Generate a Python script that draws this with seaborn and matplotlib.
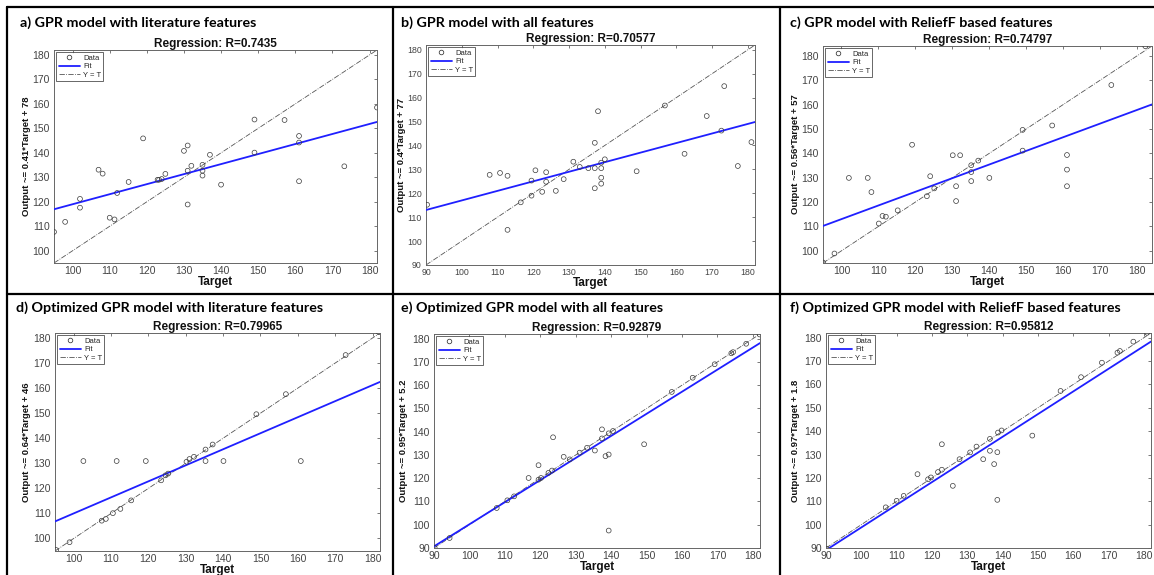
import numpy as np
import pandas as pd
import matplotlib
matplotlib.use("Agg")
import matplotlib.pyplot as plt
from matplotlib.lines import Line2D
import seaborn as sns

# ---------------- data ----------------
a_target = [95, 98, 102, 102, 107, 108.1, 110, 111.3, 112, 115.1, 119, 122.9, 123.3, 124, 125,
            130, 131, 131, 131, 132, 135, 135, 135, 137, 140, 149, 149, 157.1, 161, 161, 161, 173.2, 182]
a_output = [107.7, 111.8, 121.2, 117.6, 133.1, 131.5, 113.5, 112.8, 123.6, 128.1, 145.9, 129, 129, 129.3, 131.4,
            140.8, 143, 118.9, 132.7, 134.7, 135.1, 132.7, 130.7, 139.2, 127, 153.6, 140.1, 153.4, 146.9, 144.2, 128.4, 134.5, 158.5]

b_target = [90.3, 107.8, 110.7, 112.8, 112.8, 116.5, 119.5, 119.5, 120.6, 122.5, 123.6, 123.6, 126.3, 128.5,
            131.2, 133, 135.4, 137.2, 137.2, 137.2, 138.1, 139, 139, 139, 139, 140, 148.9, 156.8, 162.3,
            168.5, 172.6, 173.4, 177.2, 181]
b_output = [115.2, 127.7, 128.5, 127.3, 104.7, 116.2, 119, 125.3, 129.6, 120.6, 128.8, 124.8, 121, 125.9,
            133.2, 131, 130.5, 141.1, 130.5, 122.1, 154.3, 132.8, 130.5, 126.5, 124, 134.2, 129.2, 156.7, 136.5,
            152.3, 146.2, 164.8, 131.4, 141.4]

c_target = [95, 98.1, 102, 107.1, 108.1, 110.1, 111.1, 112, 115.2, 119.1, 123.1, 124, 125.1, 130.1, 132.1,
            131, 131, 135.1, 135.1, 135.1, 137, 140, 149, 149, 157, 161, 161, 161, 173, 182.2]
c_output = [95.2, 98.9, 129.9, 129.9, 124.1, 111.2, 114.3, 114, 116.6, 143.5, 122.4, 130.6, 125.6, 139.2, 139.2,
            126.5, 120.4, 135.1, 132.3, 128.6, 137, 129.9, 149.6, 141.1, 151.4, 139.3, 133.3, 126.5, 168, 183.9]

d_target = [95.3, 98.9, 102.6, 107.5, 108.6, 110.5, 111.5, 112.5, 115.4, 119.3, 123.4, 124.6, 125.3, 130.2,
            131, 132.2, 135.3, 135.3, 137.2, 140.1, 148.9, 156.8, 160.8, 172.8, 181.7]
d_output = [95.4, 98.5, 130.9, 107.1, 107.8, 110.1, 130.9, 111.8, 115.2, 130.9, 123.2, 125.2, 125.9, 130.6,
            131.7, 132.6, 135.5, 130.9, 137.5, 130.9, 149.6, 157.6, 130.9, 173.2, 182.3]

e_target = [90.2, 94.4, 107.7, 110.7, 112.6, 116.7, 119.5, 119.5, 120.2, 122.3, 123.3, 123.6, 126.6, 128.3,
            131.1, 133.2, 135.4, 137.4, 137.4, 138.4, 139.3, 139.3, 140.5, 139.3, 149.3, 157.1, 163, 169.2,
            173.9, 174.4, 178.1, 181.9]
e_output = [90, 94.3, 107.2, 110.5, 112.2, 120.1, 125.6, 119.4, 120.1, 122.3, 123.3, 137.6, 129.2, 128.1,
            131, 133.1, 131.9, 141, 137.1, 129.5, 130.2, 139.3, 140.3, 97.5, 134.6, 157.1, 163.2, 169,
            173.7, 174.2, 177.8, 181.8]

f_target = [90.2, 106.9, 110, 112, 115.9, 118.9, 119.7, 121.7, 122.8, 122.8, 125.9, 127.8, 130.8, 132.6,
            134.5, 136.4, 136.4, 137.6, 138.5, 138.5, 138.7, 139.7, 148.4, 156.4, 162.2, 168.1, 172.5,
            173.2, 177, 180.9]
f_output = [89.7, 107.4, 110.2, 112.3, 121.6, 119.4, 120.2, 122.5, 123.5, 134.4, 116.6, 128, 130.9, 133.4,
            128, 131.6, 136.7, 125.9, 131, 110.6, 139.4, 140.3, 138.1, 157.2, 163.1, 169.3, 173.6,
            174.3, 178.3, 182.1]

panel_titles = ["a) GPR model with literature features",
                "b) GPR model with all features",
                "c) GPR model with ReliefF based features",
                "d) Optimized GPR model with literature features",
                "e) Optimized GPR model with all features",
                "f) Optimized GPR model with ReliefF based features"]
r_values = ["0.7435", "0.70577", "0.74797", "0.79965", "0.92879", "0.95812"]
fit_slopes = [0.41, 0.4, 0.56, 0.64, 0.95, 0.97]
fit_intercepts = [78, 77, 57, 46, 5.2, 1.8]
fit_labels = ["0.41", "0.4", "0.56", "0.64", "0.95", "0.97"]
int_labels = ["78", "77", "57", "46", "5.2", "1.8"]
axis_limits = [(95, 182), (90, 182), (95, 184), (95, 182), (90, 182), (90, 182)]
x_ticks = [[100, 110, 120, 130, 140, 150, 160, 170, 180],
           [90, 100, 110, 120, 130, 140, 150, 160, 170, 180],
           [100, 110, 120, 130, 140, 150, 160, 170, 180],
           [100, 110, 120, 130, 140, 150, 160, 170, 180],
           [90, 100, 110, 120, 130, 140, 150, 160, 170, 180],
           [90, 100, 110, 120, 130, 140, 150, 160, 170, 180]]

targets = [a_target, b_target, c_target, d_target, e_target, f_target]
outputs = [a_output, b_output, c_output, d_output, e_output, f_output]

# ---------------- layout (pixels) ----------------
W, H = 1154, 575
axes_px = [(54, 377, 50, 263), (426, 755, 45, 265), (823, 1152, 46, 263),
           (55, 380, 333, 551), (434, 760, 334, 548), (826, 1151, 333, 548)]
title_px = [(20, 23), (401, 23), (790, 23), (16, 308), (401, 308), (790, 308)]
ylabel_x_px = [27, 401, 795, 27, 403, 795]
tick_sizes = [7.5, 6.3, 7.5, 7.5, 7.5, 7.5]

sns.set_theme(style="white")
plt.rcParams['font.family'] = ['Liberation Sans', 'DejaVu Sans']

fig = plt.figure(figsize=(W / 100, H / 100), dpi=100)
fig.patch.set_facecolor("white")

tick_col = "#444444"
for i in range(6):
    l, r, t, b = axes_px[i]
    ax = fig.add_axes([l / W, 1 - b / H, (r - l) / W, (b - t) / H])
    lo, hi = axis_limits[i]
    df = pd.DataFrame({"Target": targets[i], "Output": outputs[i]})
    line_x = np.array([lo, hi], dtype=float)
    sns.lineplot(x=line_x, y=line_x, ax=ax, color="#555555", linestyle="-.", linewidth=0.6, zorder=2)
    sns.lineplot(x=line_x, y=fit_slopes[i] * line_x + fit_intercepts[i], ax=ax,
                 color="#1f1fff", linewidth=1.3, zorder=3)
    sns.scatterplot(data=df, x="Target", y="Output", ax=ax, marker="o", s=12,
                    facecolor="none", edgecolor="#3a3a3a", linewidth=0.5, zorder=4)
    ax.set_xlim(lo, hi)
    ax.set_ylim(lo, hi)
    ax.set_xticks(x_ticks[i])
    ax.set_yticks(x_ticks[i])
    ax.tick_params(direction="in", top=True, right=True, length=2.5, width=0.5,
                   colors=tick_col, labelsize=tick_sizes[i])
    ax.tick_params(axis="x", pad=2)
    ax.tick_params(axis="y", pad=3)
    for sp in ax.spines.values():
        sp.set_color("#666666")
        sp.set_linewidth(0.7)
    ax.set_title(f"Regression: R={r_values[i]}", fontsize=8.5, fontweight="bold",
                 color="#111111", pad=2)
    ax.set_xlabel("Target", fontsize=8.5, fontweight="bold", color="#111111", labelpad=0)
    ax.set_ylabel(f"Output ~= {fit_labels[i]}*Target + {int_labels[i]}", fontsize=6.8,
                  fontweight="bold", color="#111111")
    ax.yaxis.set_label_coords((ylabel_x_px[i] + 4.5 - l) / (r - l), 0.5)
    handles = [Line2D([], [], linestyle="none", marker="o", markersize=3.3, markerfacecolor="none",
                      markeredgecolor="#333333", markeredgewidth=0.55),
               Line2D([], [], color="#1f1fff", linewidth=1.3),
               Line2D([], [], color="#555555", linestyle="-.", linewidth=0.6)]
    leg = ax.legend(handles, ["Data", "Fit", "Y = T"], loc="upper left", fontsize=5.5,
                    frameon=True, fancybox=False, borderpad=0.3, labelspacing=0.15,
                    handlelength=2.8, handletextpad=0.4, borderaxespad=0.3)
    leg.get_frame().set_edgecolor("#222222")
    leg.get_frame().set_linewidth(0.6)

    tx, ty = title_px[i]
    fig.text(tx / W, 1 - ty / H, panel_titles[i], fontsize=10.3, fontweight="bold",
             family=["Lato", "DejaVu Sans"], va="center", ha="left", color="black")

# panel frame lines
def hline(y, x0=7, x1=W):
    fig.add_artist(Line2D([x0 / W, x1 / W], [1 - y / H, 1 - y / H], color="black", linewidth=1.6))

def vline(x, y0=7, y1=H):
    fig.add_artist(Line2D([x / W, x / W], [1 - y0 / H, 1 - y1 / H], color="black", linewidth=1.6))

hline(7)
hline(294)
for xv in (7, 393, 780):
    vline(xv)

fig.savefig("out.png", dpi=100)
